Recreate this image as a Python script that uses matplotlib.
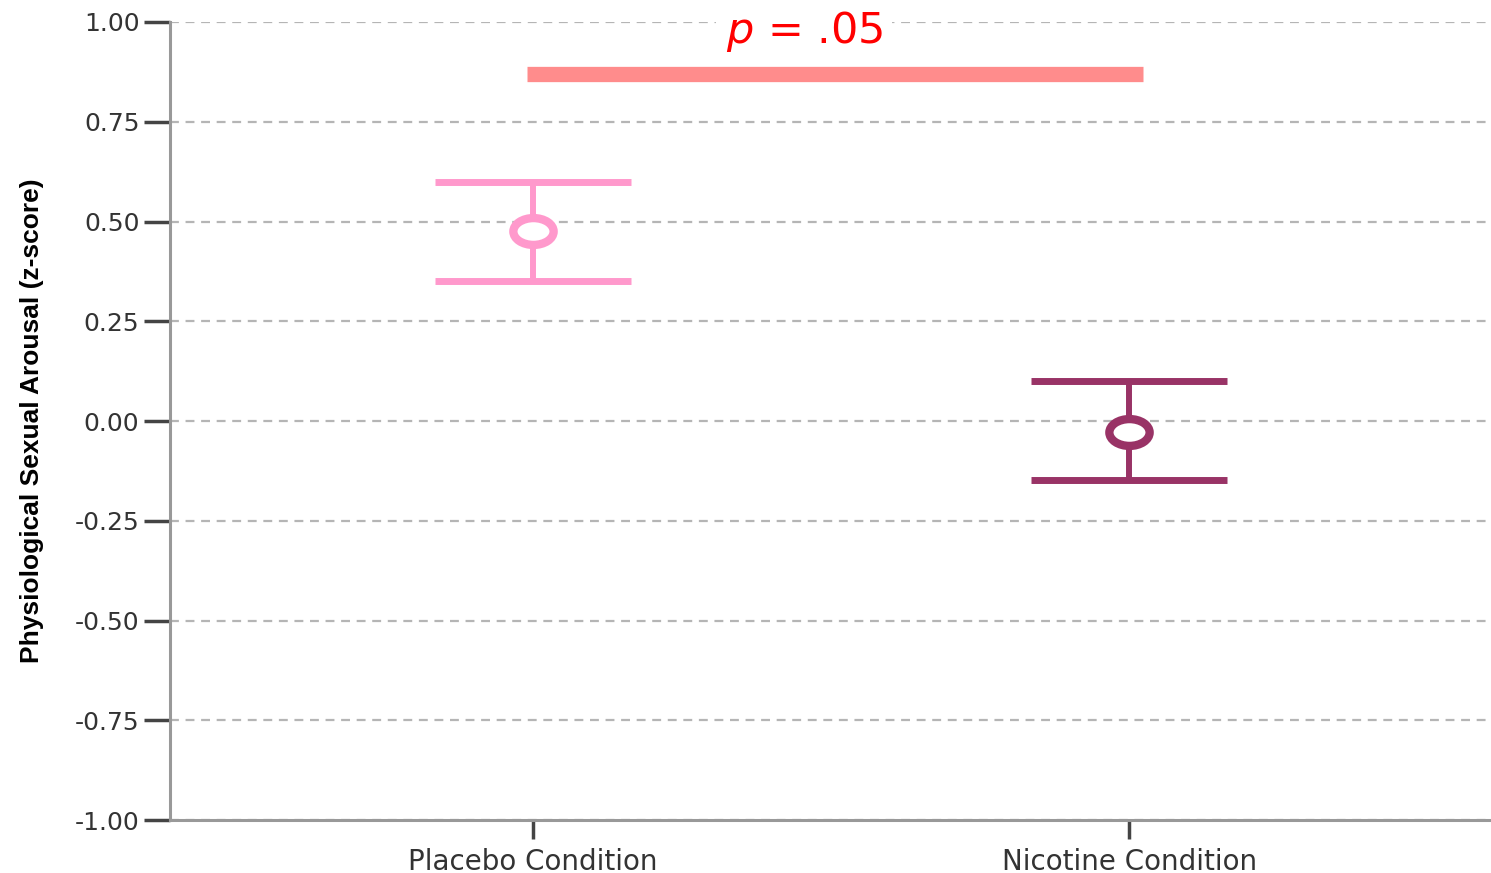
import numpy as np
import matplotlib
matplotlib.use("Agg")
import matplotlib.pyplot as plt
from matplotlib.path import Path
from matplotlib.transforms import Affine2D

conditions = ["Placebo Condition", "Nicotine Condition"]
means = [0.475, -0.028]
ci_upper = [0.600, 0.100]
ci_lower = [0.351, -0.148]
colours = ["#FF99CC", "#993366"]
y_ticks = [-1.00, -0.75, -0.50, -0.25, 0.00, 0.25, 0.50, 0.75, 1.00]
sig_label = "= .05"
sig_level = 0.87

plt.rcParams['font.family'] = ['DejaVu Sans']
plt.rcParams['mathtext.fontset'] = 'dejavusans'

fig = plt.figure(figsize=(14.91, 8.73), dpi=100)
ax = fig.add_axes([0.114, 0.0607, 0.886, 0.9141])

# wide open ellipse marker
ellipse = Path.unit_circle().transformed(Affine2D().scale(1.5, 1.0))

x = np.arange(len(conditions))
cap = 0.164
for xi, m, lo, hi, c in zip(x, means, ci_lower, ci_upper, colours):
    ax.vlines(xi, lo, hi, color=c, lw=4.3, zorder=3)
    ax.hlines([lo, hi], xi - cap, xi + cap, color=c, lw=5, zorder=3)
    ax.plot(xi, m, marker=ellipse, ms=29, mfc="white", mec=c, mew=6,
            linestyle="none", zorder=4)

# significance bar
ax.hlines(sig_level, x[0] - 0.01, x[1] + 0.023, color="#FF8C8C", lw=11, zorder=3)
ax.text(0.455, 0.975, r"$p$ " + sig_label, color="red", fontsize=31,
        ha="center", va="center", zorder=5,
        bbox=dict(boxstyle="square,pad=0.22", facecolor="white", edgecolor="none"))

ax.set_xlim(-0.609, 1.607)
ax.set_ylim(-1.0, 1.0)
ax.set_yticks(y_ticks)
ax.set_yticklabels([f"{v:.2f}" for v in y_ticks], fontsize=18, color="#333333")
ax.set_xticks(x)
ax.set_xticklabels(conditions, fontsize=20, color="#333333")
ax.tick_params(axis="y", length=19, width=2.5, color="#444444", pad=3)
ax.tick_params(axis="x", length=14, width=2.5, color="#444444", pad=6)

ax.grid(axis="y", linestyle=(0, (4, 3)), color="#B5B5B5", lw=1.6, zorder=0)
ax.set_axisbelow(True)

for s in ["top", "right"]:
    ax.spines[s].set_visible(False)
for s in ["left", "bottom"]:
    ax.spines[s].set_color("#999999")
    ax.spines[s].set_linewidth(2.2)

ax.set_ylabel("Physiological Sexual Arousal (z-score)", fontsize=19,
              fontweight="bold", family=['Liberation Sans'], labelpad=22)

fig.savefig("out.png", dpi=100)
